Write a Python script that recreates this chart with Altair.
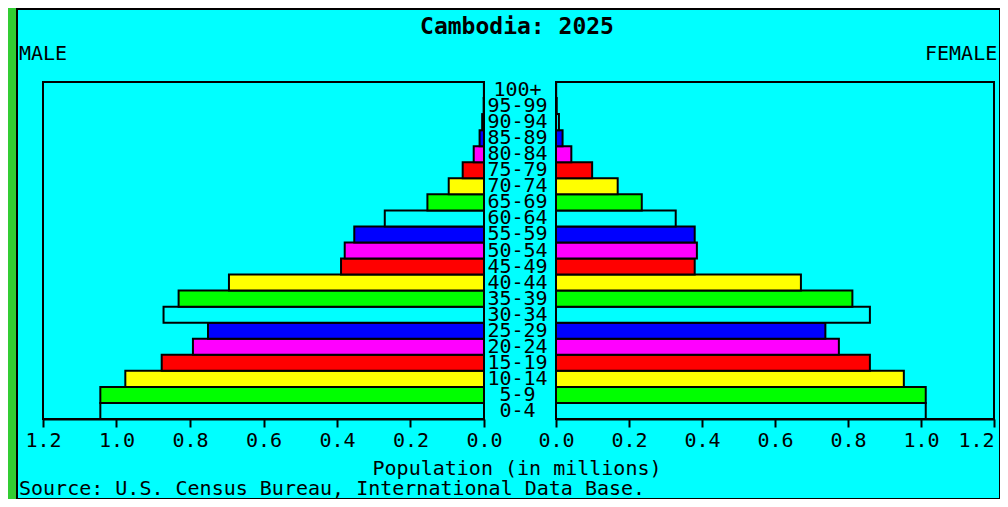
import altair as alt
import pandas as pd

# ---------------- data ----------------
ages = ["0-4", "5-9", "10-14", "15-19", "20-24", "25-29", "30-34", "35-39",
        "40-44", "45-49", "50-54", "55-59", "60-64", "65-69", "70-74",
        "75-79", "80-84", "85-89", "90-94", "95-99", "100+"]
male = [1.044, 1.044, 0.976, 0.877, 0.792, 0.751, 0.872, 0.831, 0.694,
        0.389, 0.379, 0.353, 0.270, 0.154, 0.096, 0.058, 0.028, 0.012,
        0.005, 0.001, 0.0003]
female = [1.013, 1.013, 0.953, 0.860, 0.775, 0.738, 0.860, 0.812, 0.671,
          0.380, 0.386, 0.380, 0.328, 0.235, 0.169, 0.099, 0.042, 0.018,
          0.008, 0.002, 0.0005]
palette = ["#00ffff", "#00ff00", "#ffff00", "#ff0000", "#ff00ff", "#0000ff"]
tick_values = [0.0, 0.2, 0.4, 0.6, 0.8, 1.0, 1.2]

title_text = "Cambodia: 2025"
male_text = "MALE"
female_text = "FEMALE"
xtitle_text = "Population (in millions)"
source_text = "Source: U.S. Census Bureau, International Data Base."

# ---------------- layout ----------------
W, H = 983, 490
Y0, Y1 = 73, 410
LX0, LX1 = 26, 467
RX0, RX1 = 539, 977
FONT = "DejaVu Sans Mono"

colors = [palette[i % len(palette)] for i in range(len(ages))]
df = pd.DataFrame({"age": ages, "male": male, "female": female, "color": colors})
order = ages[::-1]

yscale = alt.Scale(range=[Y0, Y1], paddingInner=0, paddingOuter=0)


def yaxis():
    return alt.Axis(orient="left", offset=-500, ticks=False, domain=False,
                    labelAlign="center", labelBaseline="middle", labelPadding=0,
                    labelFont=FONT, labelFontSize=20, labelColor="black",
                    labelOverlap=False, labelBound=False, title=None)


def xaxis(last_align="center"):
    return alt.Axis(orient="bottom", offset=-(H - Y1), values=tick_values,
                    format=".1f", tickSize=8, tickWidth=2, tickColor="black",
                    domainColor="black", domainWidth=2, labelFont=FONT,
                    labelFontSize=20, labelColor="black", labelPadding=3,
                    labelFlush=False, labelOverlap=False, grid=False, title=None,
                    labelAlign={"condition": {"test": "datum.value >= 1.2",
                                              "value": last_align},
                                "value": "center"})


left_scale = alt.Scale(domain=[0, 1.2], range=[LX1, LX0], nice=False)
right_scale = alt.Scale(domain=[0, 1.2], range=[RX0, RX1], nice=False)

left_bars = alt.Chart(df).mark_bar(stroke="black", strokeWidth=2, opacity=1).encode(
    x=alt.X("male:Q", scale=left_scale, axis=xaxis("center")),
    y=alt.Y("age:N", sort=order, scale=yscale, axis=yaxis()),
    color=alt.Color("color:N", scale=None),
)
right_bars = alt.Chart(df).mark_bar(stroke="black", strokeWidth=2, opacity=1).encode(
    x=alt.X("female:Q", scale=right_scale, axis=xaxis("right")),
    y=alt.Y("age:N", sort=order, scale=yscale, axis=yaxis()),
    color=alt.Color("color:N", scale=None),
)

frame_df = pd.DataFrame({"lo": [0.0], "hi": [1.2]})
left_frame = alt.Chart(frame_df).mark_rect(fillOpacity=0, stroke="black", strokeWidth=2).encode(
    x=alt.X("lo:Q", scale=left_scale, axis=None), x2="hi:Q",
    y=alt.value(Y0), y2=alt.value(Y1))
right_frame = alt.Chart(frame_df).mark_rect(fillOpacity=0, stroke="black", strokeWidth=2).encode(
    x=alt.X("lo:Q", scale=right_scale, axis=None), x2="hi:Q",
    y=alt.value(Y0), y2=alt.value(Y1))


def label(text, x, y, align="left", baseline="middle", size=20, weight="normal"):
    return alt.Chart(pd.DataFrame({"t": [text]})).mark_text(
        align=align, baseline=baseline, font=FONT, fontSize=size,
        fontWeight=weight, color="black").encode(
        text="t:N", x=alt.value(x), y=alt.value(y))


texts = [
    label(title_text, 500, 18, align="center", size=23, weight="bold"),
    label(male_text, 2, 45),
    label(female_text, 908, 45),
    label(xtitle_text, 500, 460, align="center"),
    label(source_text, 2, 486, baseline="alphabetic"),
]

chart = alt.layer(left_bars, right_bars, left_frame, right_frame, *texts).resolve_scale(
    x="independent"
).properties(
    width=W, height=H, background="#32cd32",
    padding={"left": 9, "top": 1, "right": 0, "bottom": 0},
    autosize=alt.AutoSizeParams(type="none"),
).configure_view(fill="#00ffff", stroke="black", strokeWidth=2)

chart.save("out.html", embed_options={"renderer": "svg", "actions": False})
